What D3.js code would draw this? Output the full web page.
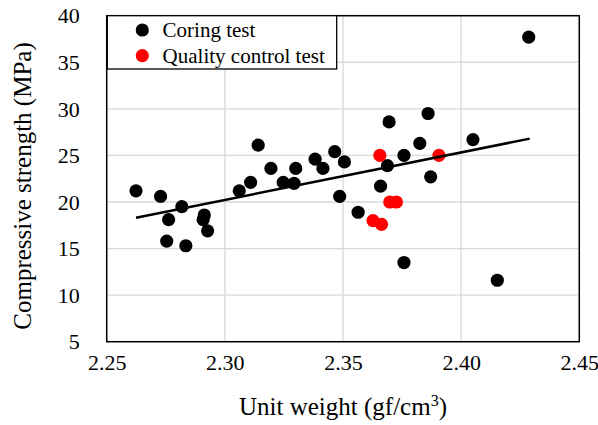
<!DOCTYPE html>
<html>
<head>
<meta charset="utf-8">
<script src="https://cdn.jsdelivr.net/npm/d3@7"></script>
<style>
  body { margin: 0; background: #fff; }
</style>
</head>
<body>
<svg id="chart" width="598" height="425"></svg>
<script>
const FONT = "Liberation Serif";

// Coring test points (unit weight, strength)
const coringX = [2.2624, 2.2728, 2.2818, 2.2762, 2.2913, 2.2908, 2.2927, 2.2754, 2.2835,
  2.3061, 2.3141, 2.3195, 2.3109, 2.3247, 2.3293, 2.3300, 2.3382, 2.3415, 2.3465, 2.3506,
  2.3486, 2.3695, 2.3860, 2.3825, 2.3758, 2.3688, 2.4050, 2.3871, 2.3659, 2.3564, 2.3758,
  2.4286, 2.4153];
const coringY = [21.2, 20.6, 19.5, 18.1, 18.6, 18.1, 16.9, 15.8, 15.3,
  21.2, 26.1, 23.6, 22.1, 22.1, 22.0, 23.6, 24.6, 23.6, 25.4, 24.3,
  20.6, 28.6, 29.5, 26.3, 25.0, 23.9, 26.7, 22.7, 21.7, 18.9, 13.5,
  37.7, 11.6];

// Quality control test points
const qcX = [2.3656, 2.3906, 2.3698, 2.3726, 2.3627, 2.3663];
const qcY = [25.0, 25.0, 20.0, 20.0, 18.0, 17.6];

// Linear trend line ends
const trendX = [2.2624, 2.4290];
const trendY = [18.3, 26.8];

const xTicks = [2.25, 2.30, 2.35, 2.40, 2.45];
const yTicks = [5, 10, 15, 20, 25, 30, 35, 40];
const legendNames = ["Coring test", "Quality control test"];
const legendColors = ["#000000", "#ff0000"];

const svg = d3.select("#chart");
const margin = { left: 106.7, top: 15.7, right: 598 - 579.3, bottom: 425 - 341.7 };
const width = 598 - margin.left - margin.right;
const height = 425 - margin.top - margin.bottom;

const x = d3.scaleLinear().domain([2.25, 2.45]).range([0, width]);
const y = d3.scaleLinear().domain([5, 40]).range([height, 0]);

const g = svg.append("g")
  .attr("transform", `translate(${margin.left},${margin.top})`);

// grid
g.append("g")
  .selectAll("line")
  .data(xTicks)
  .enter().append("line")
  .attr("x1", d => x(d)).attr("x2", d => x(d))
  .attr("y1", 0).attr("y2", height)
  .attr("stroke", "#d9d9d9").attr("stroke-width", 1.3);

g.append("g")
  .selectAll("line")
  .data(yTicks)
  .enter().append("line")
  .attr("x1", 0).attr("x2", width)
  .attr("y1", d => y(d)).attr("y2", d => y(d))
  .attr("stroke", "#d9d9d9").attr("stroke-width", 1.3);

// axes (labels only)
const xAxis = g.append("g")
  .attr("transform", `translate(0,${height})`)
  .call(d3.axisBottom(x).tickValues(xTicks).tickFormat(d3.format(".2f")).tickSize(0).tickPadding(13));
const yAxis = g.append("g")
  .call(d3.axisLeft(y).tickValues(yTicks).tickFormat(d3.format("d")).tickSize(0).tickPadding(27));
[xAxis, yAxis].forEach(a => {
  a.attr("font-family", null).attr("font-size", null);
  a.select(".domain").remove();
  a.selectAll("text")
    .attr("font-family", FONT).attr("font-size", 22).attr("fill", "#000");
});
yAxis.selectAll("text").attr("dy", "0.33em");

// frame
g.append("rect")
  .attr("width", width).attr("height", height)
  .attr("fill", "none").attr("stroke", "#000").attr("stroke-width", 1.5);

// points
g.append("g").selectAll("circle")
  .data(coringX.map((v, i) => [v, coringY[i]]))
  .enter().append("circle")
  .attr("cx", d => x(d[0])).attr("cy", d => y(d[1]))
  .attr("r", 6.6).attr("fill", "#000");

g.append("g").selectAll("circle")
  .data(qcX.map((v, i) => [v, qcY[i]]))
  .enter().append("circle")
  .attr("cx", d => x(d[0])).attr("cy", d => y(d[1]))
  .attr("r", 6.6).attr("fill", "#ff0000");

// trend line
const line = d3.line().x(d => x(d[0])).y(d => y(d[1]));
g.append("path")
  .datum(trendX.map((v, i) => [v, trendY[i]]))
  .attr("d", line)
  .attr("stroke", "#000").attr("stroke-width", 2.5).attr("fill", "none");

// legend
const lg = g.append("g").attr("transform", "translate(0.6,0)");
lg.append("rect")
  .attr("width", 229.4).attr("height", 53.3)
  .attr("fill", "#fff").attr("stroke", "#000").attr("stroke-width", 1.3);
const items = lg.selectAll("g.item")
  .data(legendNames)
  .enter().append("g")
  .attr("transform", (d, i) => `translate(0,${14.3 + i * 25.7})`);
items.append("circle")
  .attr("cx", 35).attr("cy", 0).attr("r", 6.6)
  .attr("fill", (d, i) => legendColors[i]);
items.append("text")
  .attr("x", 55.3).attr("y", 0).attr("dy", "0.33em")
  .attr("font-family", FONT).attr("font-size", 21)
  .text(d => d);

// axis titles
svg.append("text")
  .attr("x", margin.left + width / 2).attr("y", 415)
  .attr("text-anchor", "middle")
  .attr("font-family", FONT).attr("font-size", 25)
  .html('Unit weight (gf/cm<tspan dy="-9" font-size="16">3</tspan><tspan dy="9">)</tspan>');

svg.append("text")
  .attr("transform", "translate(31,186) rotate(-90)")
  .attr("text-anchor", "middle")
  .attr("font-family", FONT).attr("font-size", 25)
  .text("Compressive strength (MPa)");
</script>
</body>
</html>
